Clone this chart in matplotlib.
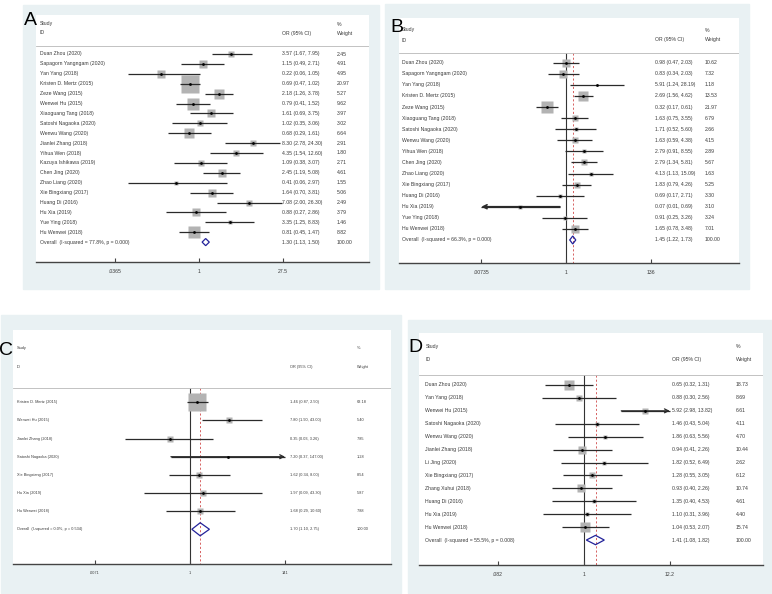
import numpy as np
import matplotlib.pyplot as plt
from matplotlib.patches import Rectangle, Polygon
import matplotlib.transforms as mtransforms

plt.rcParams['font.family'] = ['Liberation Sans', 'DejaVu Sans']

W, H = 772, 594
BG = '#e9f1f3'
TXT = '#3a3a3a'

# ---- panel A ----
names_a = ["Duan Zhou (2020)", "Sapagorn Yangngam (2020)", "Yan Yang (2018)",
           "Kristen D. Mertz (2015)", "Zeze Wang (2015)", "Wenwei Hu (2015)",
           "Xiaoguang Tang (2018)", "Satoshi Nagaoka (2020)", "Wenwu Wang (2020)",
           "Jianlei Zhang (2018)", "Yihua Wen (2018)", "Kazuya Ishikawa (2019)",
           "Chen Jing (2020)", "Zhao Liang (2020)", "Xie Bingxiang (2017)",
           "Huang Di (2016)", "Hu Xia (2019)", "Yue Ying (2018)", "Hu Wenwei (2018)"]
or_a = [3.57, 1.15, 0.22, 0.69, 2.18, 0.79, 1.61, 1.02, 0.68, 8.30, 4.35, 1.09,
        2.45, 0.41, 1.64, 7.08, 0.88, 3.35, 0.81]
lo_a = [1.67, 0.49, 0.06, 0.47, 1.26, 0.41, 0.69, 0.35, 0.29, 2.78, 1.54, 0.38,
        1.19, 0.06, 0.70, 2.00, 0.27, 1.25, 0.45]
hi_a = [7.95, 2.71, 1.05, 1.02, 3.78, 1.52, 3.75, 3.06, 1.61, 24.30, 12.60, 3.07,
        5.08, 2.97, 3.81, 26.30, 2.86, 8.83, 1.47]
wt_a = [2.45, 4.91, 4.95, 20.97, 5.27, 9.62, 3.97, 3.02, 6.64, 2.91, 1.80, 2.71,
        4.61, 1.55, 5.06, 2.49, 3.79, 1.46, 8.82]
overall_a = (1.30, 1.13, 1.50)
ovtext_a = "Overall  (I-squared = 77.8%, p = 0.000)"
ticks_a = [0.0365, 1, 27.5]
ticklbl_a = [".0365", "1", "27.5"]

# ---- panel B ----
names_b = ["Duan Zhou (2020)", "Sapagorn Yangngam (2020)", "Yan Yang (2018)",
           "Kristen D. Mertz (2015)", "Zeze Wang (2015)", "Xiaoguang Tang (2018)",
           "Satoshi Nagaoka (2020)", "Wenwu Wang (2020)", "Yihua Wen (2018)",
           "Chen Jing (2020)", "Zhao Liang (2020)", "Xie Bingxiang (2017)",
           "Huang Di (2016)", "Hu Xia (2019)", "Yue Ying (2018)", "Hu Wenwei (2018)"]
or_b = [0.98, 0.83, 5.91, 2.69, 0.32, 1.63, 1.71, 1.63, 2.79, 2.79, 4.13, 1.83,
        0.69, 0.07, 0.91, 1.65]
lo_b = [0.47, 0.34, 1.24, 1.56, 0.17, 0.75, 0.52, 0.59, 0.91, 1.34, 1.13, 0.79,
        0.17, 0.006, 0.25, 0.78]
hi_b = [2.03, 2.03, 28.19, 4.62, 0.61, 3.55, 5.60, 4.38, 8.55, 5.81, 15.09, 4.26,
        2.71, 0.69, 3.26, 3.48]
wt_b = [10.62, 7.32, 1.18, 13.53, 21.97, 6.79, 2.66, 4.15, 2.89, 5.67, 1.63, 5.25,
        3.30, 3.10, 3.24, 7.01]
overall_b = (1.45, 1.22, 1.73)
ovtext_b = "Overall  (I-squared = 66.3%, p = 0.000)"
ticks_b = [0.00735, 1, 136]
ticklbl_b = [".00735", "1", "136"]

# ---- panel C ----
names_c = ["Kristen D. Mertz (2015)", "Wenwei Hu (2015)", "Jianlei Zhang (2018)",
           "Satoshi Nagaoka (2020)", "Xie Bingxiang (2017)", "Hu Xia (2019)",
           "Hu Wenwei (2018)"]
or_c = [1.46, 7.80, 0.35, 7.20, 1.62, 1.97, 1.68]
lo_c = [0.87, 1.90, 0.034, 0.37, 0.34, 0.09, 0.29]
hi_c = [2.50, 43.00, 3.26, 147.00, 8.00, 43.30, 10.60]
wt_c = [63.18, 5.40, 7.85, 1.28, 8.54, 5.87, 7.88]
overall_c = (1.70, 1.10, 2.75)
ovtext_c = "Overall  (I-squared = 0.0%, p = 0.534)"
ticks_c = [0.0071, 1, 141]
ticklbl_c = [".0071", "1", "141"]

# ---- panel D ----
names_d = ["Duan Zhou (2020)", "Yan Yang (2018)", "Wenwei Hu (2015)",
           "Satoshi Nagaoka (2020)", "Wenwu Wang (2020)", "Jianlei Zhang (2018)",
           "Li Jing (2020)", "Xie Bingxiang (2017)", "Zhang Xuhui (2018)",
           "Huang Di (2016)", "Hu Xia (2019)", "Hu Wenwei (2018)"]
or_d = [0.65, 0.88, 5.92, 1.46, 1.86, 0.94, 1.82, 1.28, 0.93, 1.35, 1.10, 1.04]
lo_d = [0.32, 0.30, 2.98, 0.43, 0.63, 0.41, 0.52, 0.55, 0.40, 0.40, 0.31, 0.53]
hi_d = [1.31, 2.56, 13.82, 5.04, 5.56, 2.26, 6.49, 3.05, 2.26, 4.53, 3.96, 2.07]
wt_d = [18.73, 8.69, 6.61, 4.11, 4.70, 10.44, 2.62, 6.12, 10.74, 4.61, 4.40, 15.74]
overall_d = (1.41, 1.08, 1.82)
ovtext_d = "Overall  (I-squared = 55.5%, p = 0.008)"
ticks_d = [0.082, 1, 12.2]
ticklbl_d = [".082", "1", "12.2"]


fig = plt.figure(figsize=(W / 100, H / 100), dpi=100)


def px_box(x0, y0, x1, y1):
    # pixel box (origin top-left) -> figure fraction rect
    return [x0 / W, 1 - y1 / H, (x1 - x0) / W, (y1 - y0) / H]


def forest(label, lab_xy, names, ors, los, his, wts, overall, ovtext, ticks, ticklbl,
           bg, white, c, s, r0, dr, head_y, sep_y, cols, fs, k, null_line):
    # background card, behind the axes
    r = px_box(*bg)
    fig.patches.append(Rectangle(r[:2], r[2], r[3], transform=fig.transFigure,
                                 color=BG, zorder=-5))
    x0, y0, x1, y1 = white
    ax = fig.add_axes(px_box(*white))
    ax.set_facecolor('white')
    ax.set_xlim((x0 - c) / s, (x1 - c) / s)
    ybot, ytop = (y1 - r0) / dr, (y0 - r0) / dr
    ax.set_ylim(ybot, ytop)
    tr = mtransforms.blended_transform_factory(ax.transAxes, ax.transData)
    cx = [(p - x0) / (x1 - x0) for p in cols]
    row = lambda py: (py - r0) / dr

    # header
    ax.text(cx[0], row(head_y[0]), "Study", transform=tr, fontsize=fs, color=TXT, va='center')
    ax.text(cx[0], row(head_y[1]), "ID", transform=tr, fontsize=fs, color=TXT, va='center')
    ax.text(cx[1], row(head_y[1]), "OR (95% CI)", transform=tr, fontsize=fs, color=TXT, va='center')
    ax.text(cx[2], row(head_y[0]), "%", transform=tr, fontsize=fs, color=TXT, va='center')
    ax.text(cx[2], row(head_y[1]), "Weight", transform=tr, fontsize=fs, color=TXT, va='center')
    ax.axhline(row(sep_y), color='#b8b8b8', lw=0.6)

    xmin, xmax = np.log(ticks[0]), np.log(ticks[-1])
    if null_line:
        ax.vlines(0, row(sep_y), ybot, color='#333333', lw=0.8, zorder=1)
        ax.vlines(np.log(overall[0]), row(sep_y), ybot, color='#d04848', lw=0.6,
                  linestyles=(0, (2.5, 2.5)), zorder=1)

    for i, (nm, o, l, h, w) in enumerate(zip(names, ors, los, his, wts)):
        lx, hx = max(np.log(l), xmin), min(np.log(h), xmax)
        ax.plot(np.log(o), i, marker='s', ms=k * np.sqrt(w) * 0.72, color='#b3b3b3',
                mec='none', zorder=2)
        ax.plot([lx, hx], [i, i], color='#2a2a2a', lw=0.9, zorder=3, solid_capstyle='butt')
        if np.log(h) > xmax:
            ax.annotate('', xy=(xmax, i), xytext=(lx, i),
                        arrowprops=dict(arrowstyle='->', lw=0.9, color='#2a2a2a',
                                        mutation_scale=7, shrinkA=0, shrinkB=0))
        if np.log(l) < xmin:
            ax.annotate('', xy=(xmin, i), xytext=(hx, i),
                        arrowprops=dict(arrowstyle='->', lw=1.2, color='#2a2a2a',
                                        mutation_scale=7, shrinkA=0, shrinkB=0))
        ax.plot(np.log(o), i, marker='o', ms=2.0, color='black', mec='none', zorder=4)
        ax.text(cx[0], i, nm, transform=tr, fontsize=fs, color=TXT, va='center')
        ax.text(cx[1], i, f"{o:.2f} ({l:.2f}, {h:.2f})", transform=tr, fontsize=fs,
                color=TXT, va='center')
        ax.text(cx[2], i, f"{w:.2f}", transform=tr, fontsize=fs, color=TXT, va='center')

    # pooled diamond
    n = len(names)
    eo, el, eh = np.log(overall)
    ax.add_patch(Polygon([(el, n), (eo, n - 0.36), (eh, n), (eo, n + 0.36)], closed=True,
                         fill=False, edgecolor='#23239a', lw=0.9, zorder=4))
    ax.text(cx[0], n, ovtext, transform=tr, fontsize=fs, color=TXT, va='center')
    ax.text(cx[1], n, f"{overall[0]:.2f} ({overall[1]:.2f}, {overall[2]:.2f})",
            transform=tr, fontsize=fs, color=TXT, va='center')
    ax.text(cx[2], n, "100.00", transform=tr, fontsize=fs, color=TXT, va='center')

    for side in ['top', 'left', 'right']:
        ax.spines[side].set_visible(False)
    ax.spines['bottom'].set_color('#444444')
    ax.spines['bottom'].set_linewidth(1.0)
    ax.set_yticks([])
    ax.set_xticks(np.log(ticks))
    ax.set_xticklabels(ticklbl)
    ax.tick_params(axis='x', direction='in', length=3, width=0.8, color='#444444',
                   labelsize=fs, labelcolor=TXT, pad=5)
    fig.text(lab_xy[0] / W, 1 - lab_xy[1] / H, label, fontsize=14, color='black',
             va='baseline', ha='left')
    return ax


forest("A", (24, 25), names_a, or_a, lo_a, hi_a, wt_a, overall_a, ovtext_a, ticks_a, ticklbl_a,
       bg=(23, 5, 379, 289), white=(36, 15, 369, 262), c=199, s=25.4, r0=54, dr=9.9,
       head_y=(24, 33), sep_y=46, cols=(40, 282, 337), fs=3.7, k=4.0, null_line=False)

forest("B", (390, 32), names_b, or_b, lo_b, hi_b, wt_b, overall_b, ovtext_b, ticks_b, ticklbl_b,
       bg=(385, 4, 749, 289), white=(399, 18, 739, 262.7), c=566.3, s=17.3, r0=62.7, dr=11.08,
       head_y=(30, 40), sep_y=53.3, cols=(402, 655, 705), fs=3.7, k=2.65, null_line=True)

forest("C", (-1, 355), names_c, or_c, lo_c, hi_c, wt_c, overall_c, ovtext_c, ticks_c, ticklbl_c,
       bg=(1, 315, 401, 593), white=(13, 330, 391, 564.3), c=190, s=19.2, r0=402.3, dr=18.14,
       head_y=(348, 366.7), sep_y=388.3, cols=(16.7, 290, 356.7), fs=2.8, k=2.2, null_line=True)

forest("D", (408, 352), names_d, or_d, lo_d, hi_d, wt_d, overall_d, ovtext_d, ticks_d, ticklbl_d,
       bg=(408, 320, 772, 593), white=(419, 333.3, 763, 565), c=583.7, s=34.4, r0=385, dr=12.92,
       head_y=(346.7, 360), sep_y=375, cols=(425.3, 672, 736), fs=3.7, k=2.3, null_line=True)

fig.savefig('out.png', dpi=100)
